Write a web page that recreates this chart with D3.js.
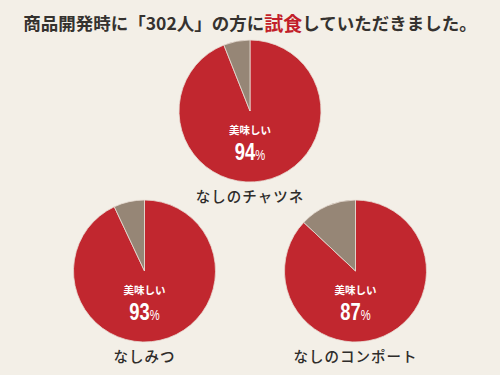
<!DOCTYPE html>
<html>
<head>
<meta charset="utf-8">
<script src="https://cdn.jsdelivr.net/npm/d3@7"></script>
<style>
  body { margin: 0; background: #f3efe7; }
  svg { display: block; }
</style>
</head>
<body>
<div id="chart"></div>
<script>
// data
let products = ["なしのチャツネ", "なしみつ", "なしのコンポート"];
let tasty = [94, 93, 87];
let tastyLabel = "美味しい";
let titleParts = [
    {text: "商品開発時に「302人」の方に", hl: false},
    {text: "試食", hl: true},
    {text: "していただきました。", hl: false}
];

let width = 500, height = 375;
let radius = 71;
// pie centres (layout)
let centres = [[250, 111], [144.5, 271], [355.5, 271]];

let red = "#c1272f", grey = "#968676", bg = "#f3efe7";

let svg = d3.select("#chart")
    .append("svg")
    .attr("width", width)
    .attr("height", height);

svg.append("rect")
    .attr("width", width)
    .attr("height", height)
    .attr("fill", bg);

// title
let title = svg.append("text")
    .attr("x", width / 2)
    .attr("y", 22)
    .attr("text-anchor", "middle")
    .attr("dominant-baseline", "central")
    .style("font-family", "'Noto Sans CJK JP', sans-serif")
    .style("font-weight", "bold")
    .style("font-size", "17.5px")
    .style("fill", "#35322f");
title.selectAll("tspan")
    .data(titleParts)
    .enter()
    .append("tspan")
    .text(function (d) { return d.text; })
    .style("fill", function (d) { return d.hl ? "#c21f2a" : "#35322f"; })
    .style("font-size", function (d) { return d.hl ? "19px" : null; });

let pie = d3.pie().sort(null).value(function (d) { return d; });
let arc = d3.arc().innerRadius(0).outerRadius(radius);

let groups = svg.selectAll(".pieGroup")
    .data(products)
    .enter()
    .append("g")
    .classed("pieGroup", true)
    .attr("transform", function (d, i) {
        return "translate(" + centres[i][0] + "," + centres[i][1] + ")";
    });

groups.selectAll("path")
    .data(function (d, i) { return pie([tasty[i], 100 - tasty[i]]); })
    .enter()
    .append("path")
    .attr("d", arc)
    .attr("fill", function (d, i) { return i === 0 ? red : grey; })
    .attr("stroke", "#e9ddd4")
    .attr("stroke-width", 0.8);

groups.append("text")
    .attr("y", 18)
    .attr("text-anchor", "middle")
    .attr("dominant-baseline", "central")
    .style("font-family", "'Noto Sans CJK JP', sans-serif")
    .style("font-weight", "bold")
    .style("font-size", "10.5px")
    .style("fill", "#fff")
    .text(tastyLabel);

// condensed look for the big numbers
let pct = groups.append("text")
    .attr("transform", "translate(0,49) scale(0.8,1)")
    .attr("text-anchor", "middle")
    .style("font-family", "'Liberation Sans', sans-serif")
    .style("font-weight", "bold")
    .style("font-size", "23px")
    .style("fill", "#fff");
pct.append("tspan")
    .text(function (d, i) { return tasty[i]; });
pct.append("tspan")
    .style("font-size", "14px")
    .style("font-weight", "normal")
    .text("%");

groups.append("text")
    .attr("y", radius + 13)
    .attr("text-anchor", "middle")
    .attr("dominant-baseline", "central")
    .style("font-family", "'Noto Sans CJK JP', sans-serif")
    .style("font-weight", "500")
    .style("font-size", "14.5px")
    .style("letter-spacing", "1px")
    .style("fill", "#2e2c2a")
    .text(function (d) { return d; });
</script>
</body>
</html>
